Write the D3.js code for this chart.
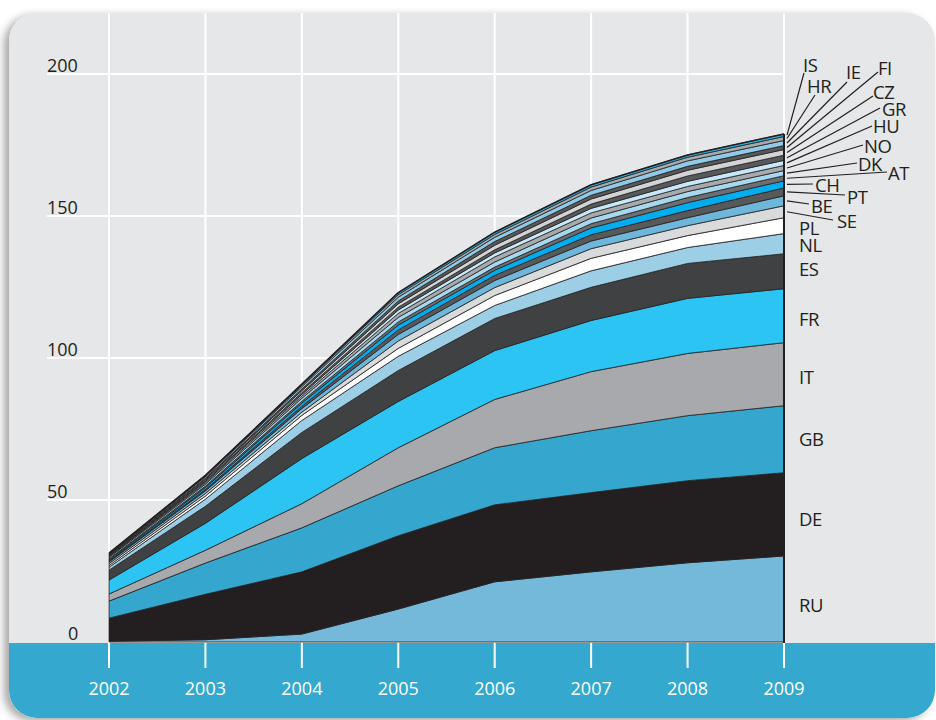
<!DOCTYPE html>
<html><head><meta charset="utf-8">
<script src="https://cdn.jsdelivr.net/npm/d3@7"></script>
<style>
html,body{margin:0;padding:0;background:#fff;}
svg{display:block;}
text{font-family:"Open Sans","Noto Sans",sans-serif;}
</style></head>
<body>
<svg id="chart" width="936" height="720"></svg>
<script>
const years = [2002, 2003, 2004, 2005, 2006, 2007, 2008, 2009];
const yTicks = [0, 50, 100, 150, 200];
// series, bottom to top
const RU = [0.3, 0.8, 2.8, 11.6, 21.2, 24.7, 27.9, 30.3];
const DE = [8.1, 16.0, 21.9, 25.8, 27.1, 27.9, 28.9, 29.3];
const GB = [6.0, 11.0, 15.5, 17.6, 20.1, 21.8, 22.9, 23.6];
const IT = [2.5, 4.5, 8.5, 13.4, 17.0, 20.8, 21.9, 22.2];
const FR = [4.9, 9.5, 15.9, 16.3, 17.2, 18.0, 19.4, 19.0];
const ES = [3.5, 6.0, 9.2, 10.9, 11.3, 11.7, 12.3, 12.3];
const NL = [1.0, 2.5, 4.2, 5.0, 4.6, 5.8, 5.6, 7.1];
const PL = [0.6, 1.1, 1.8, 2.8, 3.5, 4.4, 4.2, 5.6];
const SE = [0.7, 0.9, 1.1, 2.6, 2.8, 3.4, 3.5, 4.2];
const BE = [0.6, 0.9, 1.3, 2.3, 2.5, 2.7, 2.8, 3.5];
const PT = [0.3, 0.5, 0.8, 1.6, 1.8, 2.2, 2.5, 2.8];
const CH = [0.4, 0.7, 1.1, 1.7, 1.8, 2.4, 2.8, 2.5];
const AT = [0.4, 0.5, 0.7, 1.1, 1.1, 1.5, 1.8, 1.8];
const DK = [0.5, 0.7, 1.0, 1.6, 1.8, 2.0, 2.1, 1.8];
const NO = [0.3, 0.5, 0.8, 1.4, 1.8, 1.8, 1.8, 1.8];
const HU = [0.2, 0.4, 0.6, 1.2, 1.4, 1.6, 1.8, 1.8];
const GR = [0.2, 0.4, 0.6, 1.0, 1.1, 1.5, 1.9, 1.8];
const CZ = [0.2, 0.4, 0.7, 1.2, 1.6, 1.8, 2.0, 2.0];
const FI = [0.2, 0.4, 0.6, 1.0, 1.3, 1.3, 1.4, 1.4];
const IE = [0.2, 0.5, 0.8, 1.3, 1.5, 1.7, 1.9, 1.8];
const HR = [0.1, 0.3, 0.5, 0.9, 1.0, 1.2, 1.3, 1.4];
const IS = [0.1, 0.2, 0.4, 0.7, 0.8, 0.8, 0.8, 0.9];

const seriesKeys = ["RU","DE","GB","IT","FR","ES","NL","PL","SE","BE","PT","CH","AT","DK","NO","HU","GR","CZ","FI","IE","HR","IS"];
const seriesValues = {RU,DE,GB,IT,FR,ES,NL,PL,SE,BE,PT,CH,AT,DK,NO,HU,GR,CZ,FI,IE,HR,IS};
const colors = {
  RU:"#74b9da", DE:"#231f20", GB:"#35a6cd", IT:"#a7a9ac", FR:"#2bc4f3", ES:"#404143",
  NL:"#9ccfe6", PL:"#ffffff", SE:"#d9dadb", BE:"#6fb7da", PT:"#58595b", CH:"#00aeef",
  AT:"#6d6e71", DK:"#a6d8f0", NO:"#a7a9ac", HU:"#c6e8f8", GR:"#58595b", CZ:"#d1d3d4",
  FI:"#58595b", IE:"#8fcbe8", HR:"#a7a9ac", IS:"#29b6e8"
};
// label layout: [key, textX, baselineY, leaderEndX, leaderEndY] (leader null for direct labels)
const labelLayout = [
  ["IS", 803, 72, 804, 73],
  ["HR", 807, 93, 815, 95],
  ["IE", 846, 79, 847, 82],
  ["FI", 878, 75, 878, 72],
  ["CZ", 873, 99, 873, 96],
  ["GR", 882, 116, 880, 108],
  ["HU", 873, 133, 872, 126],
  ["NO", 864, 153, 863, 145],
  ["DK", 858, 171, 857, 163],
  ["AT", 888, 180, 887, 172],
  ["CH", 815, 192, 813, 184],
  ["PT", 847, 204, 845, 195],
  ["BE", 811, 213, 809, 204],
  ["SE", 837, 228, 833, 220],
  ["PL", 799, 235, null, null],
  ["NL", 799, 252, null, null],
  ["ES", 799, 276, null, null],
  ["FR", 799, 326, null, null],
  ["IT", 799, 384, null, null],
  ["GB", 799, 446, null, null],
  ["DE", 799, 526, null, null],
  ["RU", 799, 612, null, null]
];

const table = years.map((yr, i) => {
  const row = {year: yr};
  seriesKeys.forEach(k => row[k] = seriesValues[k][i]);
  return row;
});

const svg = d3.select("#chart");
const x = d3.scaleLinear().domain([2002, 2009]).range([109, 784]);
const y = d3.scaleLinear().domain([0, 200]).range([642, 74]);

const defs = svg.append("defs");
const f = defs.append("filter").attr("id","sh").attr("x","-10%").attr("y","-10%").attr("width","130%").attr("height","130%");
f.append("feDropShadow").attr("dx",-5).attr("dy",3).attr("stdDeviation",4).attr("flood-color","#000").attr("flood-opacity",0.35);
defs.append("clipPath").attr("id","panelClip").append("rect")
  .attr("x",9).attr("y",13).attr("width",926).attr("height",705).attr("rx",28);

// panel
svg.append("rect").attr("x",9).attr("y",13).attr("width",926).attr("height",705).attr("rx",28)
  .attr("fill","#e6e7e8").attr("filter","url(#sh)");
const g = svg.append("g").attr("clip-path","url(#panelClip)");
g.append("rect").attr("x",0).attr("y",y(0)+1).attr("width",936).attr("height",100).attr("fill","#35a8cf");

// grid
g.selectAll("line.hg").data(yTicks.filter(d => d > 0)).join("line")
  .attr("x1",47).attr("x2",x(2009)).attr("y1",d=>y(d)).attr("y2",d=>y(d))
  .attr("stroke","#fff").attr("stroke-width",2);
g.selectAll("line.vg").data(years).join("line")
  .attr("x1",d=>x(d)).attr("x2",d=>x(d)).attr("y1",13).attr("y2",668)
  .attr("stroke","#fff").attr("stroke-width",2);

// stack
const stack = d3.stack().keys(seriesKeys);
const layers = stack(table);
const area = d3.area().x(d => x(d.data.year)).y0(d => y(d[0])).y1(d => y(d[1])).curve(d3.curveLinear);
g.append("g").selectAll("path").data(layers).join("path")
  .attr("d", area).attr("fill", d => colors[d.key])
  .attr("stroke","#231f20").attr("stroke-width",0.8).attr("stroke-linejoin","round");

// outer top edge
const topLine = d3.line().x(d => x(d.data.year)).y(d => y(d[1]));
g.append("path").attr("d", topLine(layers[layers.length-1])).attr("fill","none")
  .attr("stroke","#231f20").attr("stroke-width",1.6).attr("stroke-linejoin","round");

// right edge
const top2009 = layers[layers.length-1][years.length-1][1];
g.append("line").attr("x1",x(2009)).attr("x2",x(2009)).attr("y1",y(top2009)).attr("y2",y(0)+1)
  .attr("stroke","#231f20").attr("stroke-width",2);

// y labels
g.selectAll("text.yl").data(yTicks).join("text")
  .attr("x", d => d === 0 ? 68 : 47).attr("y", d => y(d) - 2)
  .attr("font-size",18).attr("fill","#231f20").text(d => d);

// x labels
g.selectAll("text.xl").data(years).join("text")
  .attr("x", d => x(d)).attr("y", 695).attr("text-anchor","middle")
  .attr("font-size",18).attr("fill","#fff").text(d => d);

// series labels
const lastIdx = years.length - 1;
const layerByKey = {};
layers.forEach(l => layerByKey[l.key] = l);
labelLayout.forEach(([k, tx, ty, lx, ly]) => {
  if (lx !== null) {
    const p = layerByKey[k][lastIdx];
    g.append("line").attr("x1", x(2009)+3).attr("y1", y((p[0]+p[1])/2))
      .attr("x2", lx).attr("y2", ly).attr("stroke","#231f20").attr("stroke-width",1.2);
  }
  g.append("text").attr("x",tx).attr("y",ty).attr("font-size",18.5).attr("fill","#231f20")
    .attr("letter-spacing","-0.5").text(k);
});
</script>
</body></html>
